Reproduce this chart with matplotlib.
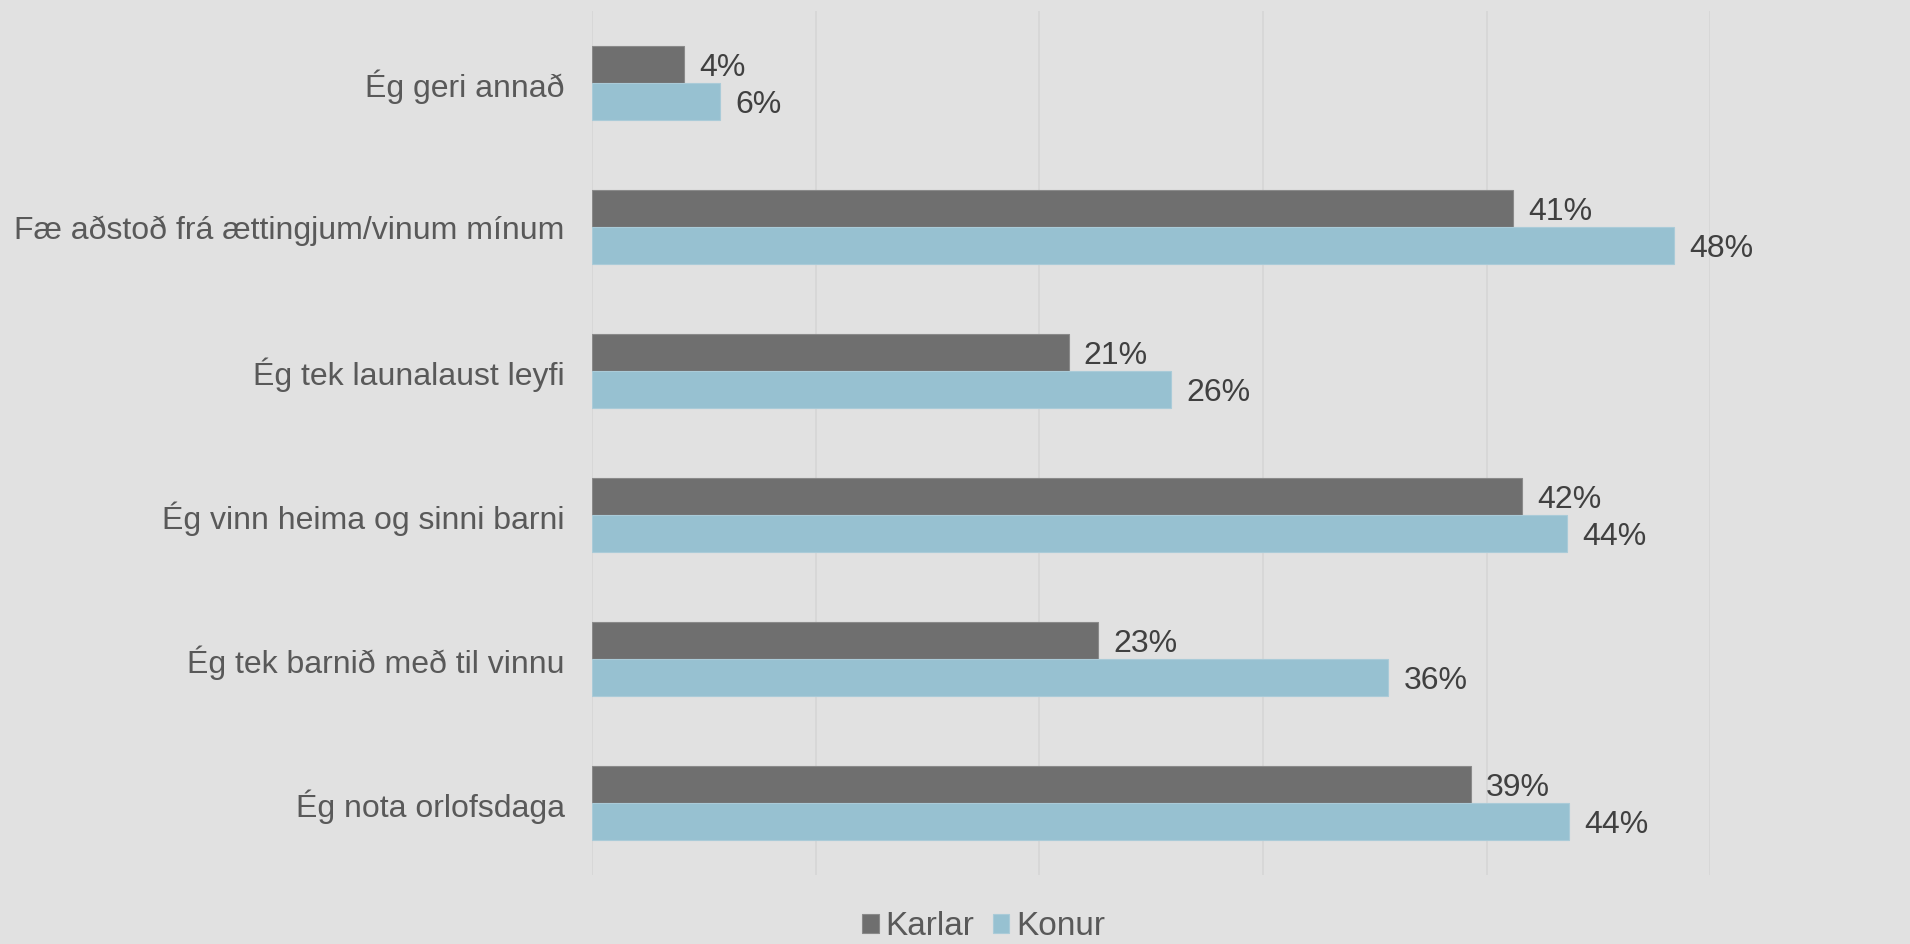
import matplotlib.pyplot as plt
import numpy as np

plt.rcParams['font.family'] = ['Liberation Sans', 'DejaVu Sans']

# gögn lesin af myndinni (í %)
flokkar = ["Ég geri annað",
           "Fæ aðstoð frá ættingjum/vinum mínum",
           "Ég tek launalaust leyfi",
           "Ég vinn heima og sinni barni",
           "Ég tek barnið með til vinnu",
           "Ég nota orlofsdaga"]
karlar = [4.1, 41.2, 21.3, 41.6, 22.6, 39.3]
konur = [5.7, 48.4, 25.9, 43.6, 35.6, 43.7]
xticks = [0, 10, 20, 30, 40, 50]

bg = "#e1e1e1"
lit_karlar = "#6f6f6f"
lit_konur = "#97c1d1"

fig = plt.figure(figsize=(19.1, 9.44), dpi=100, facecolor=bg)
ax = fig.add_axes([0.3102, 0.0731, 0.8953 - 0.3102, 0.9883 - 0.0731])
ax.set_facecolor(bg)

y = np.arange(len(flokkar))
h = 0.26
b1 = ax.barh(y - h/2, karlar, height=h, color=lit_karlar, edgecolor="#8a8a8a", linewidth=0.8, label="Karlar")
b2 = ax.barh(y + h/2, konur, height=h, color=lit_konur, edgecolor="#aacbd8", linewidth=0.8, label="Konur")

lb1 = ax.bar_label(b1, labels=[f"{v:.0f}%" for v in karlar], padding=11, fontsize=23, color="#404040")
lb2 = ax.bar_label(b2, labels=[f"{v:.0f}%" for v in konur], padding=11, fontsize=23, color="#404040")
for t in lb1 + lb2:
    t.set_verticalalignment("center_baseline")

ax.set_ylim(len(flokkar) - 0.5, -0.5)
ax.set_xlim(0, 50)
ax.set_yticks(y)
ax.set_yticklabels(flokkar, fontsize=23, color="#595959")
ax.set_xticks(xticks)
ax.set_xticklabels([])
ax.tick_params(axis="both", length=0)
ax.tick_params(axis="y", pad=20)
ax.grid(axis="x", color="#d5d5d5", linewidth=1.2)
ax.set_axisbelow(True)
for s in ax.spines.values():
    s.set_visible(False)

fig.legend(loc="lower center", bbox_to_anchor=(0.515, 0.0), ncol=2, frameon=False,
           fontsize=24, labelcolor="#595959", handlelength=0.5, handleheight=0.5,
           handletextpad=0.2, columnspacing=0.55, borderaxespad=0, borderpad=0.05)

fig.savefig("out.png", dpi=100, facecolor=bg)
